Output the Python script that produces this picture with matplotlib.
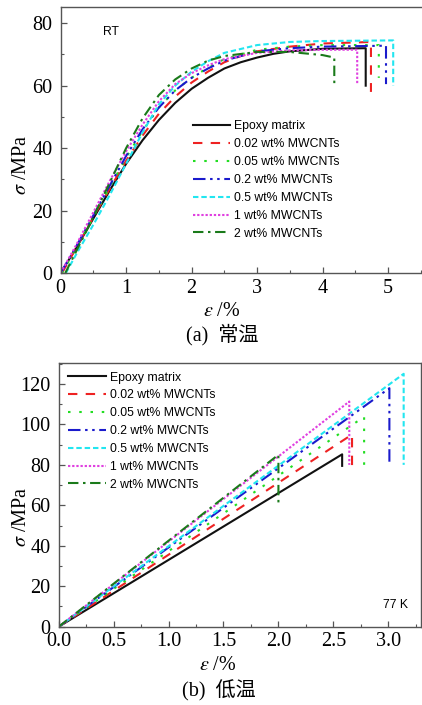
import matplotlib
matplotlib.use('Agg')
import matplotlib.pyplot as plt
from matplotlib.ticker import MultipleLocator, FormatStrFormatter

W, H = 422, 705

labels = ['Epoxy matrix', '0.02 wt% MWCNTs', '0.05 wt% MWCNTs', '0.2 wt% MWCNTs',
          '0.5 wt% MWCNTs', '1 wt% MWCNTs', '2 wt% MWCNTs']
colors = ['#111111', '#ee2222', '#22dd22', '#1a1acc', '#22e6f0', '#e040e0', '#1a7a1a']
styles = ['-', (0, (4.5, 4)), (0, (1.2, 4.2)), (0, (6, 2.2, 1.2, 2.2, 1.2, 2.2)),
          (0, (2.6, 1.4)), (0, (1.1, 0.9)), (0, (5, 2.2, 1.2, 2.2))]

# (a) room temperature, strain %, stress MPa
rt_strain = [
    [0.0, 0.25, 0.5, 0.75, 1.0, 1.25, 1.5, 1.75, 2.0, 2.25, 2.5, 2.75, 3.0, 3.25, 3.5, 4.0, 4.66, 4.66],
    [0.02, 0.25, 0.5, 0.75, 1.0, 1.25, 1.5, 1.75, 2.0, 2.25, 2.5, 2.75, 3.0, 3.5, 4.0, 4.74, 4.74],
    [0.02, 0.25, 0.5, 0.75, 1.0, 1.25, 1.5, 1.75, 2.0, 2.25, 2.5, 3.0, 3.5, 4.0, 4.86, 4.86],
    [0.0, 0.25, 0.5, 0.75, 1.0, 1.25, 1.5, 1.75, 2.0, 2.25, 2.5, 3.0, 3.5, 4.0, 4.97, 4.97],
    [0.08, 0.25, 0.5, 0.75, 1.0, 1.25, 1.5, 1.75, 2.0, 2.25, 2.5, 3.0, 3.5, 4.0, 5.08, 5.08],
    [0.0, 0.25, 0.5, 0.75, 1.0, 1.25, 1.5, 1.75, 2.0, 2.25, 2.5, 3.0, 3.5, 4.0, 4.53, 4.53],
    [0.07, 0.25, 0.5, 0.75, 1.0, 1.25, 1.5, 1.75, 2.0, 2.25, 2.5, 3.0, 3.5, 4.0, 4.18, 4.18],
]
rt_stress = [
    [0.0, 8.5, 17.5, 26.5, 35.0, 42.5, 49.0, 54.5, 59.0, 62.5, 65.5, 67.5, 69.0, 70.2, 71.0, 71.8, 72.0, 60.0],
    [0.0, 8.5, 18.0, 27.0, 36.0, 44.0, 51.0, 56.5, 61.0, 64.5, 67.5, 69.5, 71.0, 72.5, 73.5, 74.0, 58.0],
    [0.0, 8.5, 18.0, 27.5, 37.0, 45.5, 53.0, 58.5, 62.5, 65.8, 68.5, 71.5, 72.5, 73.0, 73.0, 62.5],
    [0.0, 9.0, 18.5, 28.0, 37.5, 46.0, 53.0, 58.5, 62.5, 65.5, 68.0, 71.0, 72.0, 72.5, 72.8, 60.5],
    [0.0, 6.5, 15.5, 25.0, 35.0, 45.0, 54.0, 60.0, 64.5, 67.8, 70.5, 73.0, 74.0, 74.3, 74.5, 60.0],
    [0.0, 9.5, 19.5, 29.5, 39.0, 47.5, 55.0, 60.5, 64.0, 66.5, 68.5, 70.5, 71.3, 71.5, 71.5, 60.5],
    [0.0, 7.5, 18.0, 29.0, 40.0, 49.5, 57.0, 62.0, 65.5, 68.0, 69.5, 70.8, 70.8, 69.8, 69.0, 60.0],
]

# (b) 77 K
lt_strain = [
    [0.0, 2.58, 2.58],
    [0.0, 2.67, 2.67],
    [0.0, 2.78, 2.78],
    [0.0, 3.01, 3.01],
    [0.0, 3.14, 3.14],
    [0.0, 2.645, 2.645],
    [0.0, 2.0, 2.0],
]
lt_stress = [
    [0.0, 85.2, 79.5],
    [0.0, 95.0, 79.6],
    [0.0, 103.8, 80.0],
    [0.0, 117.9, 80.0],
    [0.0, 125.0, 80.0],
    [0.0, 111.3, 80.0],
    [0.0, 85.0, 59.5],
]


def fx(x):
    return x / W


def fy(y):
    return 1 - y / H


def style_axes(ax):
    for s in ax.spines.values():
        s.set_color('#555555')
        s.set_linewidth(1.0)
    ax.tick_params(which='both', direction='in', colors='#555555', labelcolor='black',
                   labelsize=14.5, top=False, right=False)
    ax.tick_params(which='major', length=4, width=0.9)
    ax.tick_params(which='minor', length=2.5, width=0.8)
    ax.tick_params(axis='x', pad=4)
    ax.tick_params(axis='y', pad=6)
    for lab in ax.get_xticklabels() + ax.get_yticklabels():
        lab.set_fontfamily('Liberation Serif')


plt.rcParams['mathtext.fontset'] = 'stix'
plt.rcParams['font.family'] = ['Liberation Serif', 'Noto Sans CJK SC']

fig = plt.figure(figsize=(W / 100, H / 100), dpi=100)

# top panel
ax1 = fig.add_axes([fx(60.7), fy(273), 1 - fx(60.7), fy(7.3) - fy(273)])
for xs, ys, c, ls, lab in zip(rt_strain, rt_stress, colors, styles, labels):
    ax1.plot(xs, ys, color=c, linestyle=ls, lw=1.5, label=lab)
ax1.set_xlim(0, 5.52)
ax1.set_ylim(0, 85.1)
ax1.xaxis.set_major_locator(MultipleLocator(1))
ax1.xaxis.set_minor_locator(MultipleLocator(0.5))
ax1.yaxis.set_major_locator(MultipleLocator(20))
ax1.yaxis.set_minor_locator(MultipleLocator(10))
ax1.spines['right'].set_visible(False)
style_axes(ax1)
ax1.legend(loc='upper left', bbox_to_anchor=(fx(193), fy(120.5)), bbox_transform=fig.transFigure,
           frameon=False, borderpad=0, borderaxespad=0, handlelength=3.0, handletextpad=0.35,
           labelspacing=0.48, prop={'family': 'Liberation Sans', 'size': 8.8})
fig.text(fx(103), fy(32), 'RT', family='Liberation Sans', fontsize=8.8, ha='left', va='center')

# bottom panel
ax2 = fig.add_axes([fx(58.7), fy(626.7), fx(420.7) - fx(58.7), fy(363.3) - fy(626.7)])
for xs, ys, c, ls, lab in zip(lt_strain, lt_stress, colors, styles, labels):
    ax2.plot(xs, ys, color=c, linestyle=ls, lw=1.5, label=lab)
ax2.set_xlim(0, 3.295)
ax2.set_ylim(0, 130.2)
ax2.xaxis.set_major_locator(MultipleLocator(0.5))
ax2.xaxis.set_minor_locator(MultipleLocator(0.25))
ax2.yaxis.set_major_locator(MultipleLocator(20))
ax2.yaxis.set_minor_locator(MultipleLocator(10))
ax2.xaxis.set_major_formatter(FormatStrFormatter('%.1f'))
style_axes(ax2)
ax2.legend(loc='upper left', bbox_to_anchor=(fx(68), fy(371.5)), bbox_transform=fig.transFigure,
           frameon=False, borderpad=0, borderaxespad=0, handlelength=3.1, handletextpad=0.35,
           labelspacing=0.48, prop={'family': 'Liberation Sans', 'size': 8.8})
fig.text(fx(383), fy(605), '77 K', family='Liberation Sans', fontsize=8.8, ha='left', va='center')

# axis labels and captions
fig.text(fx(22), fy(165), r'$\sigma$ /MPa', fontsize=14.5, rotation=90, ha='center', va='center')
fig.text(fx(222), fy(312), r'$\varepsilon$ /%', fontsize=14.5, ha='center', va='center')
fig.text(fx(222), fy(335), '(a)  常温', fontsize=14.5, ha='center', va='center')
fig.text(fx(22), fy(517), r'$\sigma$ /MPa', fontsize=14.5, rotation=90, ha='center', va='center')
fig.text(fx(218), fy(665), r'$\varepsilon$ /%', fontsize=14.5, ha='center', va='center')
fig.text(fx(219), fy(691), '(b)  低温', fontsize=14.5, ha='center', va='center')

fig.savefig('out.png', dpi=100)
